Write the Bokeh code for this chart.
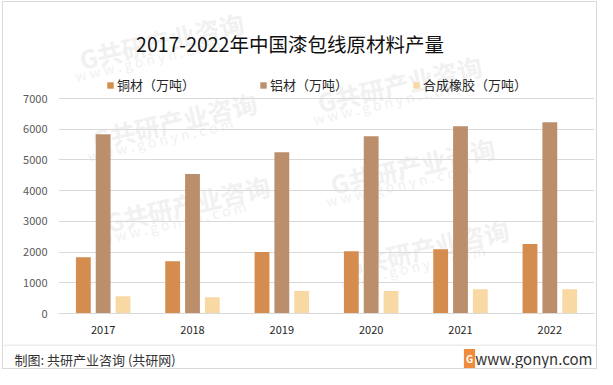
from bokeh.plotting import figure
from bokeh.layouts import column
from bokeh.models import (ColumnDataSource, FactorRange, Legend, LegendItem, Label, Span,
                          FixedTicker, NumeralTickFormatter, Range1d)
from bokeh.transform import dodge
from bokeh.embed import file_html
from bokeh.resources import INLINE

years = ["2017", "2018", "2019", "2020", "2021", "2022"]
copper = [1830, 1700, 2000, 2030, 2090, 2260]
aluminum = [5840, 4540, 5250, 5770, 6100, 6230]
rubber = [560, 530, 730, 730, 790, 790]
series_names = ["铜材（万吨）", "铝材（万吨）", "合成橡胶（万吨）"]
y_ticks = [0, 1000, 2000, 3000, 4000, 5000, 6000, 7000]
title_text = "2017-2022年中国漆包线原材料产量"
source_text = "制图: 共研产业咨询 (共研网)"
site_text = "www.gonyn.com"
wm_text = "G共研产业咨询"
wm_site = "w w w . g o n y n . c o m"

FONT = "Noto Sans CJK SC"
C_COPPER = "#D48C4F"
C_ALU = "#BC8F6C"
C_RUB = "#F8D9A4"

src = ColumnDataSource(dict(year=years, copper=copper, aluminum=aluminum, rubber=rubber))

# frame 536 x 311 px; the 7000 line sits 215 px above the baseline and the
# headroom above it holds the title and the legend
y_top = 7000 * 311 / 215
p = figure(width=593, height=342,
           x_range=FactorRange(*years, range_padding=0, factor_padding=0),
           y_range=Range1d(0, y_top), output_backend="svg", toolbar_location=None,
           min_border_left=55, min_border_right=2, min_border_top=0, min_border_bottom=31)
p.outline_line_color = None
p.background_fill_color = "white"
p.border_fill_color = "white"

# faint watermarks beneath everything (frame-relative screen px)
for wx, wy in [(103, 273), (116, 193), (129, 110), (341, 230), (354, 148), (368, 66)]:
    p.add_layout(Label(x=wx, y=wy, x_units="screen", y_units="screen", text=wm_text,
                       text_align="center", text_baseline="middle", angle=0.227,
                       text_font=FONT, text_font_size="25px", text_font_style="bold",
                       text_color="#f1f1f1", level="image"))
    p.add_layout(Label(x=wx - 14, y=wy - 19, x_units="screen", y_units="screen",
                       text=wm_site, text_align="center", text_baseline="middle",
                       angle=0.227, text_font=FONT, text_font_size="14px",
                       text_color="#f1f1f1", level="image"))

bw = 0.166
off = 0.222
r1 = p.vbar(x=dodge("year", -off, range=p.x_range), top="copper", width=bw, source=src,
            fill_color=C_COPPER, line_color=None)
r2 = p.vbar(x=dodge("year", 0, range=p.x_range), top="aluminum", width=bw, source=src,
            fill_color=C_ALU, line_color=None)
r3 = p.vbar(x=dodge("year", off, range=p.x_range), top="rubber", width=bw, source=src,
            fill_color=C_RUB, line_color=None)

p.xgrid.grid_line_color = None
p.ygrid.grid_line_color = "#d9d9d9"
p.ygrid.grid_line_width = 1
p.ygrid.ticker = FixedTicker(ticks=y_ticks)
p.yaxis.ticker = FixedTicker(ticks=y_ticks)
p.yaxis.formatter = NumeralTickFormatter(format="0")
p.yaxis.axis_line_color = None
p.yaxis.major_tick_line_color = None
p.yaxis.minor_tick_line_color = None
p.yaxis.major_tick_out = 0
p.yaxis.major_tick_in = 0
p.yaxis.minor_tick_out = 0
p.yaxis.major_label_standoff = 11
p.yaxis.major_label_text_font = FONT
p.yaxis.major_label_text_font_size = "11px"
p.yaxis.major_label_text_color = "#595959"

p.xaxis.axis_line_color = "#d9d9d9"
p.xaxis.major_tick_line_color = None
p.xaxis.minor_tick_line_color = None
p.xaxis.major_tick_out = 0
p.xaxis.major_tick_in = 0
p.xaxis.major_label_standoff = 12
p.xaxis.major_label_text_font = FONT
p.xaxis.major_label_text_font_size = "11px"
p.xaxis.major_label_text_color = "#262626"

for r, name, lx in zip([r1, r2, r3], series_names, [48, 201, 354]):
    lg = Legend(items=[LegendItem(label=name, renderers=[r])],
                orientation="horizontal", location=(lx, 219),
                padding=0, margin=0, glyph_width=8, glyph_height=8, label_standoff=3,
                label_text_font=FONT, label_text_font_size="13px",
                label_text_color="#262626",
                background_fill_alpha=0, border_line_color=None)
    p.add_layout(lg, "center")

p.add_layout(Label(x=231.5, y=270, x_units="screen", y_units="screen",
                   text=title_text, text_align="center",
                   text_baseline="middle", text_font=FONT, text_font_size="19.5px",
                   text_color="#111111"))

# footer
f = figure(width=593, height=24, x_range=Range1d(0, 593), y_range=Range1d(0, 24),
           output_backend="svg", toolbar_location=None, min_border=0,
           x_axis_location=None, y_axis_location=None)
f.grid.visible = False
f.outline_line_color = None
f.border_fill_color = "white"
f.background_fill_color = "white"
for fig in (p, f):
    if "frame_align" in fig.properties():
        fig.frame_align = False
f.add_layout(Span(location=23.5, dimension="width", line_color="#d9d9d9", line_width=1))
f.add_layout(Label(x=11, y=9, x_units="screen", y_units="screen",
                   text=source_text, text_align="left", text_baseline="middle",
                   text_font=FONT, text_font_size="13px", text_color="#333333"))
f.add_layout(Label(x=589, y=10, x_units="screen", y_units="screen",
                   text=site_text, text_align="right", text_baseline="middle",
                   text_font=FONT, text_font_size="15px", text_color="#333333"))
f.add_layout(Label(x=466, y=10, x_units="screen", y_units="screen",
                   text="G", text_align="center", text_baseline="middle",
                   text_font=FONT, text_font_size="10px", text_font_style="bold",
                   text_color="white", background_fill_color="#F08A3C",
                   border_line_color=None, padding=2))

layout = column(p, f, spacing=0,
                styles={"border": "1px solid #d9d9d9", "margin-left": "2px",
                        "margin-top": "1px"})

open("out.html", "w").write(file_html(layout, INLINE))
